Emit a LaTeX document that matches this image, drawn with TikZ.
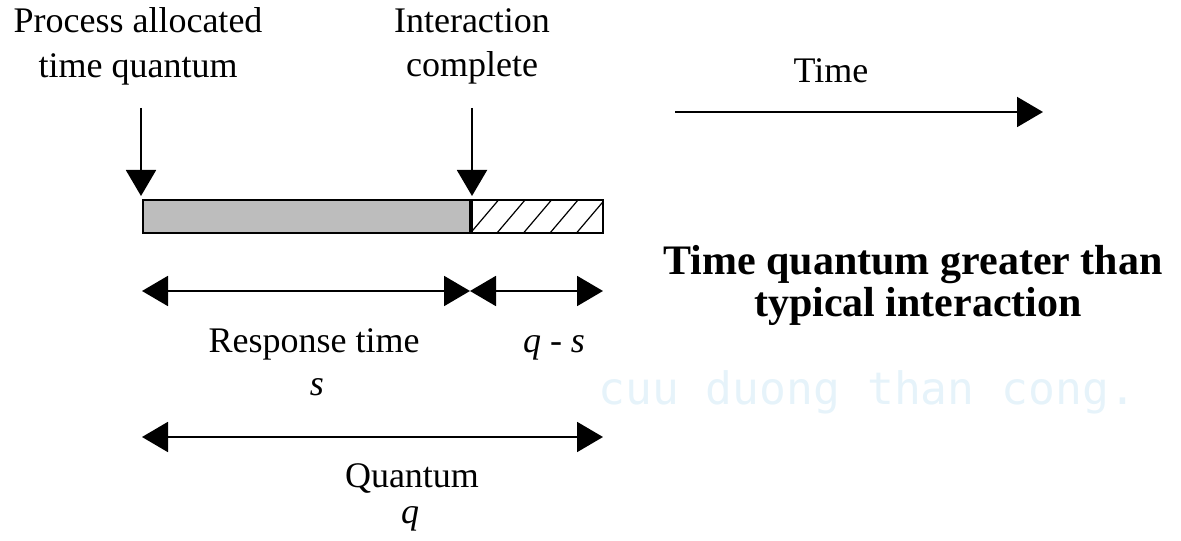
\documentclass[tikz,border=0pt]{standalone}
\usepackage{fontspec}
\setmainfont{Liberation Serif}
\newfontfamily\wmfont{DejaVu Sans Mono}
\usetikzlibrary{arrows.meta}
\definecolor{barfill}{RGB}{189,189,189}
\definecolor{wmcolor}{RGB}{230,243,250}
\tikzset{
  lbl/.style={inner sep=0pt, anchor=base, font=\fontsize{27}{32}\selectfont},
  ttl/.style={inner sep=0pt, anchor=base, font=\fontsize{31.5}{38}\selectfont\bfseries},
  arr/.style={line width=1.5pt, -{Triangle[length=19.5pt,width=22.5pt]}},
  darr/.style={line width=1.5pt, {Triangle[length=19.5pt,width=22.5pt]}-{Triangle[length=19.5pt,width=22.5pt]}},
  barbox/.style={draw=black, line width=1.3pt}
}
\begin{document}
\begin{tikzpicture}[x=0.75pt,y=-0.75pt]
\useasboundingbox (0,0) rectangle (1181,541);

% watermark
\node[inner sep=0pt, anchor=base west, text=wmcolor, font=\fontsize{33.5}{40}\wmfont] (wm) at (598,404) {cuu duong than cong.};

% top labels
\node[lbl] (pa1) at (138,33) {Process allocated};
\node[lbl] (pa2) at (138,78) {time quantum};
\node[lbl] (ic1) at (472,33) {Interaction};
\node[lbl] (ic2) at (472,77) {complete};
\node[lbl] (tm) at (831,83) {Time};

% coordinates
\coordinate (a1s) at (141,108);
\coordinate (a1e) at (141,196);
\coordinate (a2s) at (472,108);
\coordinate (a2e) at (472,196);
\coordinate (ts) at (675,112);
\coordinate (te) at (1043,112);
\coordinate (bl) at (143,200);
\coordinate (bm) at (471,233);
\coordinate (bmt) at (471,200);
\coordinate (br) at (603,233);
\coordinate (r1) at (142,291);
\coordinate (r2) at (470,291);
\coordinate (r3) at (603,291);
\coordinate (q1) at (142,437);
\coordinate (q2) at (603,437);

% bar
\fill[barfill] (bl) rectangle (bm);
\begin{scope}
  \clip (bmt) rectangle (br);
  \foreach \k in {0,...,6} {
    \draw[line width=0.9pt] ({444+26.5*\k},233) -- ({472+26.5*\k},200);
  }
\end{scope}
\draw[barbox] (bl) rectangle (br);
\draw[line width=2.6pt] (bmt) -- (bm);

% arrows
\draw[arr] (a1s) -- (a1e);
\draw[arr] (a2s) -- (a2e);
\draw[arr] (ts) -- (te);
\draw[darr] (r1) -- (r2);
\draw[darr] (r2) -- (r3);
\draw[darr] (q1) -- (q2);

% lower labels
\node[lbl] (rt) at (314,353) {Response time};
\node[lbl] (s) at (317,395) {\textit{s}};
\node[lbl] (qs) at (554,353) {\textit{q - s}};
\node[lbl] (qu) at (412,487) {Quantum};
\node[lbl] (q) at (410,523) {\textit{q}};

% title
\node[ttl] (t1) at (913,275) {Time quantum greater than};
\node[ttl] (t2) at (918,317) {typical interaction};
\end{tikzpicture}
\end{document}
